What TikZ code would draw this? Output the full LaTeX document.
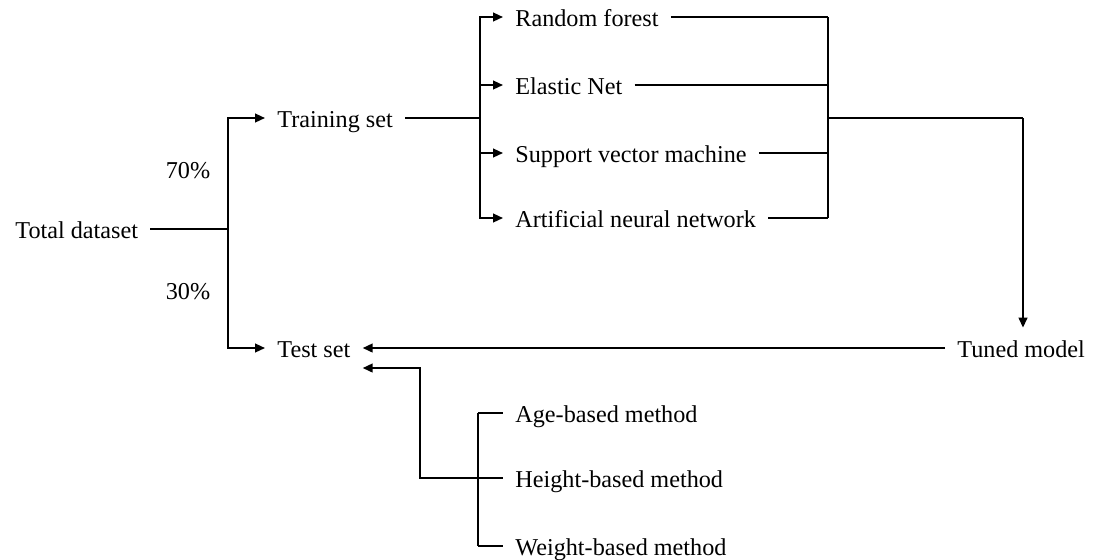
\documentclass[tikz,border=0pt]{standalone}
\usepackage{fontspec}
\setmainfont{Liberation Serif}
\usetikzlibrary{arrows.meta}
\begin{document}
\begin{tikzpicture}[x=0.5pt,y=-0.5pt,
  lbl/.style={inner xsep=6pt,inner ysep=3.5pt,text height=11pt,text depth=2pt,
    font=\fontsize{12.1}{14}\selectfont},
  item/.style={lbl,anchor=west},
  conn/.style={line width=0.9pt},
  arr/.style={conn,-{Triangle[length=5pt,width=4.4pt]}}]
\useasboundingbox (0,0) rectangle (1098,559);
% nodes
\node[item] (total) at (3,229) {Total dataset};
\node[item] (train) at (265,118) {Training set};
\node[item] (test) at (265,348) {Test set};
\node[item] (rf) at (503,17) {Random forest};
\node[item] (en) at (503,85) {Elastic Net};
\node[item] (svm) at (503,153) {Support vector machine};
\node[item] (ann) at (503,218) {Artificial neural network};
\node[item] (tuned) at (945,348) {Tuned model};
\node[item] (age) at (503,413) {Age-based method};
\node[item] (height) at (503,478) {Height-based method};
\node[item] (weight) at (503,546) {Weight-based method};
\node[lbl] (p70) at (188,169) {70\%};
\node[lbl] (p30) at (188,290) {30\%};
% junctions
\coordinate (split) at (228,229);
\coordinate (fan) at (480,118);
\coordinate (merge) at (828,118);
\coordinate (mtop) at (828,17);
\coordinate (mbot) at (828,218);
\coordinate (down) at (1023,118);
\coordinate (brk) at (478,478);
\coordinate (btop) at (478,413);
\coordinate (bbot) at (478,546);
\coordinate (elbow) at (420,478);
% split of total dataset
\draw[conn] (total.east) -- (split);
\draw[arr] (split) |- (train.west);
\draw[arr] (split) |- (test.west);
% fan out to models
\draw[conn] (train.east) -- (fan);
\draw[arr] (fan) |- (rf.west);
\draw[arr] (fan) |- (en.west);
\draw[arr] (fan) |- (svm.west);
\draw[arr] (fan) |- (ann.west);
% merge models
\draw[conn] (rf.east) -- (rf.east -| mtop);
\draw[conn] (en.east) -- (en.east -| mtop);
\draw[conn] (svm.east) -- (svm.east -| mtop);
\draw[conn] (ann.east) -- (ann.east -| mtop);
\draw[conn] (mtop) -- (mbot);
\draw[conn] (merge) -- (down);
\draw[arr] (down) -- (down |- tuned.north);
% tuned model to test set
\draw[arr] (tuned.west) -- (test.east);
% baseline methods
\draw[conn] (btop) -- (bbot);
\draw[conn] (btop) -- (age.west);
\draw[conn] (brk) -- (height.west);
\draw[conn] (bbot) -- (weight.west);
\draw[arr] (brk) -- (elbow) |- ([yshift=-10pt]test.east);
\end{tikzpicture}
\end{document}
